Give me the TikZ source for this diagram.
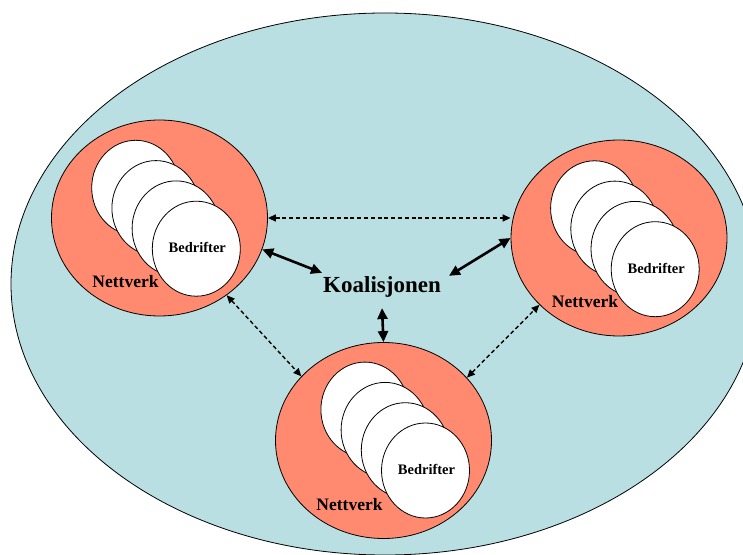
\documentclass[tikz,border=0pt]{standalone}
\usepackage{fontspec}
\setmainfont{Liberation Serif}
\usetikzlibrary{arrows.meta,shapes.geometric}
\definecolor{bgblue}{HTML}{B9DFE2}
\definecolor{salmon}{HTML}{FF8A70}
\begin{document}
\begin{tikzpicture}[x=1pt,y=1pt,
  outer/.style={ellipse, draw=black, line width=0.8pt, fill=bgblue, minimum width=748pt, minimum height=542pt, inner sep=0pt},
  net/.style={ellipse, draw=black, line width=0.8pt, fill=salmon, minimum width=216pt, minimum height=196pt, inner sep=0pt},
  firm/.style={ellipse, draw=black, line width=0.8pt, fill=white, minimum width=88pt, minimum height=95pt, inner sep=0pt},
  firmlabel/.style={font=\bfseries\fontsize{14.5}{16}\selectfont, anchor=base, inner sep=0pt},
  netlabel/.style={font=\bfseries\fontsize{17.5}{20}\selectfont, anchor=base, inner sep=0pt},
  strong/.style={line width=2.6pt, {Triangle[length=11pt,width=10pt]}-{Triangle[length=11pt,width=10pt]}},
  weak/.style={line width=1.4pt, dash pattern=on 4pt off 2.8pt, {Triangle[length=8pt,width=7pt]}-{Triangle[length=8pt,width=7pt]}},
]
\useasboundingbox (0,0) rectangle (743,554);
\begin{scope}
\clip (0,0) rectangle (743,554);
\node[outer] (world) at (385,270) {};
\end{scope}
% networks
\node[net] (L) at (159.5,336) {};
\node[net] (R) at (619,316) {};
\node[net] (B) at (383.5,113.5) {};
% firms
\foreach \k in {3,2,1,0} {
  \node[firm] (L\k) at ({196.3-20.2*\k},{305.3+20.3*\k}) {};
}
\foreach \k in {3,2,1,0} {
  \node[firm] (R\k) at ({655.2-20.2*\k},{284.8+20.3*\k}) {};
}
\foreach \k in {3,2,1,0} {
  \node[firm] (B\k) at ({425.5-20.2*\k},{83.5+20.3*\k}) {};
}
% labels
\node[firmlabel] (Lb) at (197.3,301.3) {Bedrifter};
\node[firmlabel] (Rb) at (656.2,280.8) {Bedrifter};
\node[firmlabel] (Bb) at (426.5,79.5) {Bedrifter};
\node[netlabel] (Ln) at (125.5,266) {Nettverk};
\node[netlabel] (Rn) at (585,246) {Nettverk};
\node[netlabel] (Bn) at (349.5,43.5) {Nettverk};
\node[font=\bfseries\fontsize{23}{26}\selectfont, inner xsep=1pt, inner ysep=4pt, anchor=base] (K) at (382,261) {Koalisjonen};
% connectors
\draw[weak] (L.east) -- (L.east -| R.west);
\draw[strong] (L.-17) -- (K.north west);
\draw[strong] (R.west) -- ([xshift=7pt,yshift=-3pt]K.north east);
\draw[strong] ([yshift=-6pt]K.south) -- (B.north);
\draw[weak] (L.-49.5) -- (B.142.4);
\draw[weak] (B.37) -- (R.220.8);
\end{tikzpicture}
\end{document}
